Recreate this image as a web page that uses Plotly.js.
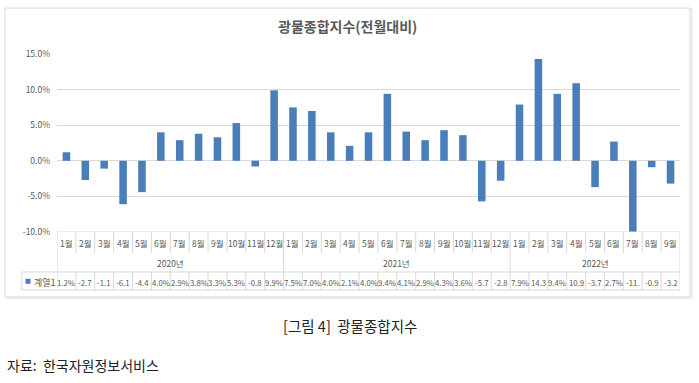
<!DOCTYPE html>
<html>
<head>
<meta charset="utf-8">
<script src="https://cdn.plot.ly/plotly-3.0.1.min.js"></script>
<style>
html,body{margin:0;padding:0;background:#fff;}
#chart{width:699px;height:383px;}
</style>
</head>
<body>
<div id="chart"></div>
<script>
// ---- data ----
const monthLabels = ['1월','2월','3월','4월','5월','6월','7월','8월','9월','10월','11월','12월',
                     '1월','2월','3월','4월','5월','6월','7월','8월','9월','10월','11월','12월',
                     '1월','2월','3월','4월','5월','6월','7월','8월','9월'];
const yearLabels = ['2020년','2021년','2022년'];
const yearCounts = [12, 12, 9];
const values = [1.2, -2.7, -1.1, -6.1, -4.4, 4.0, 2.9, 3.8, 3.3, 5.3, -0.8, 9.9,
                7.5, 7.0, 4.0, 2.1, 4.0, 9.4, 4.1, 2.9, 4.3, 3.6, -5.7, -2.8,
                7.9, 14.3, 9.4, 10.9, -3.7, 2.7, -11.0, -0.9, -3.2];
const tableLabels = ['1.2%','-2.7','-1.1','-6.1','-4.4','4.0%','2.9%','3.8%','3.3%','5.3%','-0.8','9.9%',
                     '7.5%','7.0%','4.0%','2.1%','4.0%','9.4%','4.1%','2.9%','4.3%','3.6%','-5.7','-2.8',
                     '7.9%','14.3','9.4%','10.9','-3.7','2.7%','-11.','-0.9','-3.2'];
const seriesName = '계열1';
const yTickVals = [-10, -5, 0, 5, 10, 15];
const yTickText = ['-10.0%','-5.0%','0.0%','5.0%','10.0%','15.0%'];
const chartTitle = '광물종합지수(전월대비)';
const caption = '[그림 4]  광물종합지수';
const source = '자료:  한국자원정보서비스';

// ---- styling ----
const KR = '"Noto Sans CJK KR", "Noto Sans", sans-serif';
const grey = '#595959';
const lineGrey = '#d9d9d9';
const barColor = '#4a7ebb';

const idx = values.map((v, i) => i);

// table geometry in paper y
const yMonth = -0.062, yYear = -0.174, yData = -0.281;
const yMonthBottom = -0.118, yDataTop = -0.2247, yDataBottom = -0.326;
const legendLeft = -0.0565;

const shapes = [];
const annotations = [];

// frame (with faint shadow)
shapes.push({type:'rect', xref:'paper', yref:'paper', x0:-0.0815, x1:1.019, y0:-0.372, y1:1.252,
  line:{color:'#eeeeee', width:2}, fillcolor:'rgba(0,0,0,0)', layer:'below'});
shapes.push({type:'rect', xref:'paper', yref:'paper', x0:-0.0835, x1:1.016, y0:-0.365, y1:1.258,
  line:{color:lineGrey, width:1}, fillcolor:'#fff', layer:'below'});

// table top line at axis bottom
shapes.push({type:'line', xref:'paper', yref:'y', x0:0, x1:1, y0:yTickVals[0], y1:yTickVals[0],
  line:{color:lineGrey, width:1}});

// month labels & data labels & column separators
let yearStarts = [];
let s = 0;
yearCounts.forEach(c => { yearStarts.push(s); s += c; });
idx.forEach(i => {
  annotations.push({x:i, y:yMonth, xref:'x', yref:'paper', text:monthLabels[i], showarrow:false,
    font:{family:KR, size:8.5, color:grey}, xanchor:'center', yanchor:'middle'});
  annotations.push({x:i, y:yData, xref:'x', yref:'paper', text:tableLabels[i], showarrow:false,
    font:{family:KR, size:7.8, color:grey}, xanchor:'center', yanchor:'middle'});
  const isYearStart = yearStarts.includes(i);
  if (isYearStart) {
    shapes.push({type:'line', xref:'x', yref:'paper', x0:i-0.5, x1:i-0.5, y0:0, y1:yDataBottom,
      line:{color:lineGrey, width:1}});
  } else {
    shapes.push({type:'line', xref:'x', yref:'paper', x0:i-0.5, x1:i-0.5, y0:0, y1:yMonthBottom,
      line:{color:lineGrey, width:1}});
    shapes.push({type:'line', xref:'x', yref:'paper', x0:i-0.5, x1:i-0.5, y0:yDataTop, y1:yDataBottom,
      line:{color:lineGrey, width:1}});
  }
});
// right border
shapes.push({type:'line', xref:'x', yref:'paper', x0:values.length-0.5, x1:values.length-0.5, y0:0, y1:yDataBottom,
  line:{color:lineGrey, width:1}});
// year labels
yearLabels.forEach((lab, k) => {
  const mid = yearStarts[k] + (yearCounts[k]-1)/2;
  annotations.push({x:mid, y:yYear, xref:'x', yref:'paper', text:lab, showarrow:false,
    font:{family:KR, size:8.5, color:grey}, xanchor:'center', yanchor:'middle'});
});
// data row horizontal lines + legend cell
shapes.push({type:'line', xref:'paper', yref:'paper', x0:legendLeft, x1:1, y0:yDataTop, y1:yDataTop,
  line:{color:lineGrey, width:1}});
shapes.push({type:'line', xref:'paper', yref:'paper', x0:legendLeft, x1:1, y0:yDataBottom, y1:yDataBottom,
  line:{color:lineGrey, width:1}});
shapes.push({type:'line', xref:'paper', yref:'paper', x0:legendLeft, x1:legendLeft, y0:yDataTop, y1:yDataBottom,
  line:{color:lineGrey, width:1}});
// legend key
shapes.push({type:'rect', xref:'paper', yref:'paper', x0:-0.0505, x1:-0.0425, y0:yData-0.010, y1:yData+0.018,
  line:{width:0}, fillcolor:barColor});
annotations.push({x:-0.0405, y:yData, xref:'paper', yref:'paper', text:seriesName, showarrow:false,
  font:{family:KR, size:9, color:grey}, xanchor:'left', yanchor:'middle'});

// title, caption, source
annotations.push({x:0.467, y:1.16, xref:'paper', yref:'paper', text:'<b>' + chartTitle + '</b>', showarrow:false,
  font:{family:KR, size:14, color:grey}, xanchor:'center', yanchor:'middle'});
annotations.push({x:0.470, y:-0.528, xref:'paper', yref:'paper', text:caption, showarrow:false,
  font:{family:KR, size:14.5, color:'#222'}, xanchor:'center', yanchor:'middle'});
annotations.push({x:-0.0835, y:-0.747, xref:'paper', yref:'paper', text:source, showarrow:false,
  font:{family:KR, size:14, color:'#222'}, xanchor:'left', yanchor:'middle'});

const trace = {
  type:'bar', x:idx, y:values, name:seriesName,
  marker:{color:barColor}, width:0.4, hoverinfo:'skip'
};

const layout = {
  width:699, height:383,
  margin:{l:57, r:19, t:54, b:151},
  paper_bgcolor:'#fff', plot_bgcolor:'rgba(0,0,0,0)',
  showlegend:false,
  xaxis:{range:[-0.5, values.length-0.5], showticklabels:false, showgrid:false, zeroline:false,
         showline:false, ticks:'', fixedrange:true},
  yaxis:{range:[-10, 15], tickvals:yTickVals, ticktext:yTickText, showgrid:true, gridcolor:lineGrey,
         gridwidth:1, zeroline:true, zerolinecolor:lineGrey, zerolinewidth:1, showline:false, ticks:'',
         ticklabelstandoff:6,
         tickfont:{family:KR, size:8.5, color:grey}, fixedrange:true},
  shapes:shapes,
  annotations:annotations,
  bargap:0.6
};

Plotly.newPlot('chart', [trace], layout, {displayModeBar:false, staticPlot:true});
</script>
</body>
</html>
